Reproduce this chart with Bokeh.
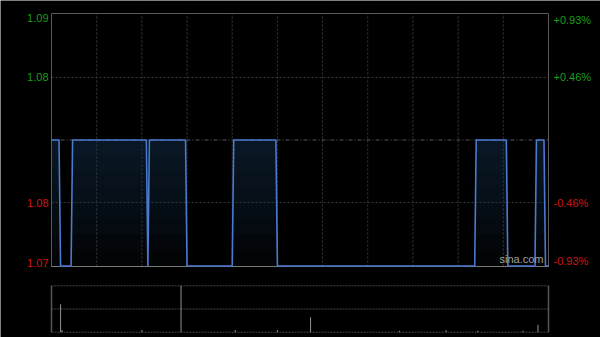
import numpy as np
from bokeh.plotting import figure
from bokeh.models import Range1d, LinearAxis
from bokeh.core.properties import value
from bokeh.embed import file_html
from bokeh.resources import INLINE

# ---- data (minutes since 09:30, HK session 330 min) ----
prev_close = 1.08
vertex_minutes = [0, 5, 6, 13, 14, 63, 64, 65, 89, 90, 120, 121, 149, 150,
                  281, 282, 302, 303, 321, 322, 327, 328, 330]
vertex_prices = [1.08, 1.08, 1.07, 1.07, 1.08, 1.08, 1.07, 1.08, 1.08, 1.07,
                 1.07, 1.08, 1.08, 1.07, 1.07, 1.08, 1.08, 1.07, 1.07, 1.08,
                 1.08, 1.07, 1.07]
vol_minutes = [6, 7, 60, 86, 122, 150, 172, 231, 262, 283, 313, 323]
vol_values = [60000, 5000, 5000, 100000, 5000, 5000, 32000, 3000, 4000, 3000, 3000, 16000]

left_ticks = ["1.09", "1.08", "1.08", "1.07"]
right_ticks = ["+0.93%", "+0.46%", "-0.46%", "-0.93%"]
pct_levels = [0.0093, 0.0046, -0.0046, -0.0093]
vgrid_minutes = [30, 60, 90, 120, 150, 180, 210, 240, 270, 300]

BG = "#000000"
FONT = "Liberation Sans"
GREEN = "#1a9e1a"
RED = "#d01414"
T_END = 330

y_lo = prev_close * (1 - 0.0093)
y_hi = prev_close * (1 + 0.0093)

# pixel layout of the panels
W, H = 600, 337
PX_L, PX_R = 51, 548          # plot left/right px
PX_T, PX_B = 13, 266          # price panel top/bottom px
PV_T, PV_B = 285.3, 331.7     # volume panel top/bottom px

kx = T_END / (PX_R - PX_L)
ky = (y_hi - y_lo) / (PX_B - PX_T)
vmax = max(vol_values)
kv = vmax / (PV_B - PV_T)

p = figure(width=W, height=H, output_backend="svg", toolbar_location=None,
           x_range=Range1d(-PX_L * kx, T_END + (W - PX_R) * kx),
           y_range=Range1d(y_lo - (H - PX_B) * ky, y_hi + PX_T * ky),
           min_border=0, background_fill_color=BG, border_fill_color=BG,
           outline_line_color=None)
p.extra_y_ranges = {"vol": Range1d(-(H - PV_B) * kv, vmax + PV_T * kv)}
p.axis.visible = False
p.grid.visible = False

# price panel grid
p.segment(x0=vgrid_minutes, x1=vgrid_minutes, y0=[y_lo] * len(vgrid_minutes),
          y1=[y_hi] * len(vgrid_minutes), line_color="#3a3a3a", line_dash="2 2")
hg = [prev_close * (1 + 0.0046), prev_close * (1 - 0.0046)]
p.segment(x0=[0, 0], x1=[T_END, T_END], y0=hg, y1=hg, line_color="#3a3a3a",
          line_dash="2 2")
p.segment(x0=[0], x1=[T_END], y0=[prev_close], y1=[prev_close],
          line_color="#555555", line_dash="4 2 1 2")

xs = np.array(vertex_minutes, dtype=float)
ys = np.array(vertex_prices, dtype=float)
n_layers = 8
for k in range(n_layers):
    lvl = y_lo + (1.0801 - y_lo) * k / n_layers
    p.varea(x=xs, y1=np.full_like(ys, lvl), y2=np.maximum(ys, lvl),
            fill_color="#1c3458", fill_alpha=0.07)

# price panel border
p.quad(left=[0], right=[T_END], bottom=[y_lo], top=[y_hi], fill_color=None,
       line_color="#5a5a5a", line_width=1)
p.segment(x0=[0], x1=[T_END], y0=[y_lo], y1=[y_lo], line_color="#7a7a7a")

p.line(xs, ys, line_color="#4a7ad0", line_width=1.6)

# tick labels
lv_y = [prev_close * (1 + l) for l in pct_levels]
cols = [GREEN if l > 0 else RED for l in pct_levels]
for idxs, base in (([0], "top"), ([1, 2], "middle"), ([3], "bottom")):
    yy = [lv_y[i] for i in idxs]
    cc = [cols[i] for i in idxs]
    p.text(x=[-3 * kx] * len(idxs), y=yy, text=[left_ticks[i] for i in idxs],
           text_align="right", text_baseline=base, text_color=cc,
           text_font=value(FONT), text_font_size="11px")
    p.text(x=[T_END + 5 * kx] * len(idxs), y=yy, text=[right_ticks[i] for i in idxs],
           text_align="left", text_baseline=base, text_color=cc,
           text_font=value(FONT), text_font_size="11px")

p.text(x=[T_END - 49 * kx], y=[y_lo + 1.2 * ky], text=["sina.com"],
       text_align="left", text_baseline="bottom", text_color="#a0a0a0",
       text_font=value(FONT), text_font_size="11px")

# volume panel
vg = [0, vmax / 2, vmax]
p.segment(x0=[0] * 3, x1=[T_END] * 3, y0=vg, y1=vg, y_range_name="vol",
          line_color="#444444", line_dash="2 1")
p.segment(x0=[0, T_END], x1=[0, T_END], y0=[0, 0], y1=[vmax, vmax],
          y_range_name="vol", line_color="#555555", line_width=1.5)
p.vbar(x=vol_minutes, top=vol_values, bottom=0, width=0.7, y_range_name="vol",
       fill_color="#8a8a8a", line_color=None)

open("out.html", "w").write(file_html(p, INLINE))
